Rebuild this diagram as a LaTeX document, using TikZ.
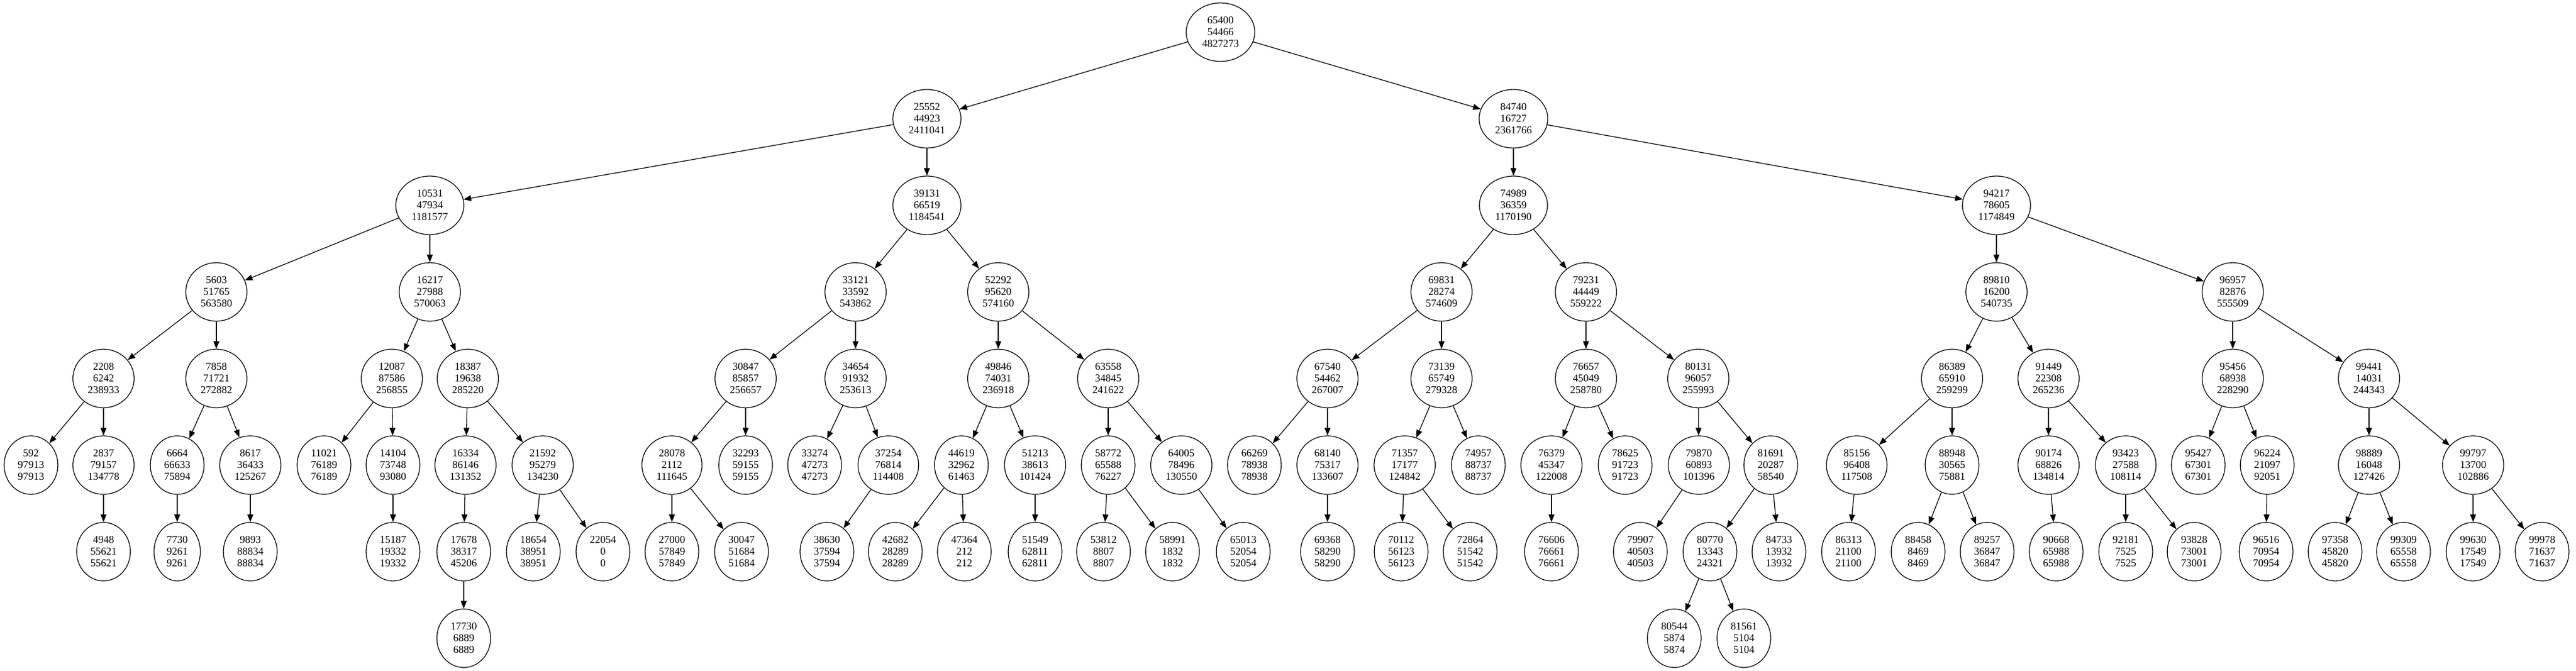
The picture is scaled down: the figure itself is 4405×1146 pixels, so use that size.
\documentclass[tikz,border=0pt]{standalone}
\usepackage{fontspec}
\setmainfont{Liberation Serif}
\usetikzlibrary{shapes.geometric,arrows.meta}
\tikzset{
  nd/.style={draw, ellipse, line width=1.3pt, inner xsep=10pt, inner ysep=3pt,
    minimum height=100pt, align=center, font=\fontsize{18pt}{20pt}\selectfont},
  edge/.style={draw, line width=1.3pt, -{Triangle[length=13pt,width=10pt]}}
}
\begin{document}
\begin{tikzpicture}[x=1pt,y=-1pt]
\useasboundingbox (0,0) rectangle (4405,1146);
% level 0
\node[nd] (n65400) at (2087,55) {65400\\54466\\4827273};
% level 1
\node[nd] (n25552) at (1585,203) {25552\\44923\\2411041};
\node[nd] (n84740) at (2588,203) {84740\\16727\\2361766};
% level 2
\node[nd] (n10531) at (735,351) {10531\\47934\\1181577};
\node[nd] (n39131) at (1585,351) {39131\\66519\\1184541};
\node[nd] (n74989) at (2588,351) {74989\\36359\\1170190};
\node[nd] (n94217) at (3414,351) {94217\\78605\\1174849};
% level 3
\node[nd] (n5603) at (370,499) {5603\\51765\\563580};
\node[nd] (n16217) at (735,499) {16217\\27988\\570063};
\node[nd] (n33121) at (1463,499) {33121\\33592\\543862};
\node[nd] (n52292) at (1707,499) {52292\\95620\\574160};
\node[nd] (n69831) at (2465,499) {69831\\28274\\574609};
\node[nd] (n79231) at (2712,499) {79231\\44449\\559222};
\node[nd] (n89810) at (3414,499) {89810\\16200\\540735};
\node[nd] (n96957) at (3818,499) {96957\\82876\\555509};
% level 4
\node[nd] (n2208) at (177,647) {2208\\6242\\238933};
\node[nd] (n7858) at (370,647) {7858\\71721\\272882};
\node[nd] (n12087) at (670,647) {12087\\87586\\256855};
\node[nd] (n18387) at (800,647) {18387\\19638\\285220};
\node[nd] (n30847) at (1275,647) {30847\\85857\\256657};
\node[nd] (n34654) at (1463,647) {34654\\91932\\253613};
\node[nd] (n49846) at (1707,647) {49846\\74031\\236918};
\node[nd] (n63558) at (1895,647) {63558\\34845\\241622};
\node[nd] (n67540) at (2270,647) {67540\\54462\\267007};
\node[nd] (n73139) at (2465,647) {73139\\65749\\279328};
\node[nd] (n76657) at (2712,647) {76657\\45049\\258780};
\node[nd] (n80131) at (2904,647) {80131\\96057\\255993};
\node[nd] (n86389) at (3338,647) {86389\\65910\\259299};
\node[nd] (n91449) at (3503,647) {91449\\22308\\265236};
\node[nd] (n95456) at (3818,647) {95456\\68938\\228290};
\node[nd] (n99441) at (4051,647) {99441\\14031\\244343};
% level 5
\node[nd] (n592) at (53,795) {592\\97913\\97913};
\node[nd] (n2837) at (177,795) {2837\\79157\\134778};
\node[nd] (n6664) at (303,795) {6664\\66633\\75894};
\node[nd] (n8617) at (428,795) {8617\\36433\\125267};
\node[nd] (n11021) at (554,795) {11021\\76189\\76189};
\node[nd] (n14104) at (672,795) {14104\\73748\\93080};
\node[nd] (n16334) at (796,795) {16334\\86146\\131352};
\node[nd] (n21592) at (928,795) {21592\\95279\\134230};
\node[nd] (n28078) at (1149,795) {28078\\2112\\111645};
\node[nd] (n32293) at (1275,795) {32293\\59155\\59155};
\node[nd] (n33274) at (1393,795) {33274\\47273\\47273};
\node[nd] (n37254) at (1519,795) {37254\\76814\\114408};
\node[nd] (n44619) at (1644,795) {44619\\32962\\61463};
\node[nd] (n51213) at (1770,795) {51213\\38613\\101424};
\node[nd] (n58772) at (1895,795) {58772\\65588\\76227};
\node[nd] (n64005) at (2020,795) {64005\\78496\\130550};
\node[nd] (n66269) at (2145,795) {66269\\78938\\78938};
\node[nd] (n68140) at (2270,795) {68140\\75317\\133607};
\node[nd] (n71357) at (2402,795) {71357\\17177\\124842};
\node[nd] (n74957) at (2528,795) {74957\\88737\\88737};
\node[nd] (n76379) at (2653,795) {76379\\45347\\122008};
\node[nd] (n78625) at (2779,795) {78625\\91723\\91723};
\node[nd] (n79870) at (2905,795) {79870\\60893\\101396};
\node[nd] (n81691) at (3028,795) {81691\\20287\\58540};
\node[nd] (n85156) at (3175,795) {85156\\96408\\117508};
\node[nd] (n88948) at (3338,795) {88948\\30565\\75881};
\node[nd] (n90174) at (3503,795) {90174\\68826\\134814};
\node[nd] (n93423) at (3635,795) {93423\\27588\\108114};
\node[nd] (n95427) at (3759,795) {95427\\67301\\67301};
\node[nd] (n96224) at (3877,795) {96224\\21097\\92051};
\node[nd] (n98889) at (4051,795) {98889\\16048\\127426};
\node[nd] (n99797) at (4229,795) {99797\\13700\\102886};
% level 6
\node[nd] (n4948) at (177,943) {4948\\55621\\55621};
\node[nd] (n7730) at (303,943) {7730\\9261\\9261};
\node[nd] (n9893) at (428,943) {9893\\88834\\88834};
\node[nd] (n15187) at (672,943) {15187\\19332\\19332};
\node[nd] (n17678) at (793,943) {17678\\38317\\45206};
\node[nd] (n18654) at (912,943) {18654\\38951\\38951};
\node[nd] (n22054) at (1031,943) {22054\\0\\0};
\node[nd] (n27000) at (1149,943) {27000\\57849\\57849};
\node[nd] (n30047) at (1268,943) {30047\\51684\\51684};
\node[nd] (n38630) at (1414,943) {38630\\37594\\37594};
\node[nd] (n42682) at (1531,943) {42682\\28289\\28289};
\node[nd] (n47364) at (1649,943) {47364\\212\\212};
\node[nd] (n51549) at (1770,943) {51549\\62811\\62811};
\node[nd] (n53812) at (1887,943) {53812\\8807\\8807};
\node[nd] (n58991) at (2005,943) {58991\\1832\\1832};
\node[nd] (n65013) at (2126,943) {65013\\52054\\52054};
\node[nd] (n69368) at (2270,943) {69368\\58290\\58290};
\node[nd] (n70112) at (2396,943) {70112\\56123\\56123};
\node[nd] (n72864) at (2514,943) {72864\\51542\\51542};
\node[nd] (n76606) at (2653,943) {76606\\76661\\76661};
\node[nd] (n79907) at (2805,943) {79907\\40503\\40503};
\node[nd] (n80770) at (2924,943) {80770\\13343\\24321};
\node[nd] (n84733) at (3042,943) {84733\\13932\\13932};
\node[nd] (n86313) at (3161,943) {86313\\21100\\21100};
\node[nd] (n88458) at (3280,943) {88458\\8469\\8469};
\node[nd] (n89257) at (3398,943) {89257\\36847\\36847};
\node[nd] (n90668) at (3516,943) {90668\\65988\\65988};
\node[nd] (n92181) at (3635,943) {92181\\7525\\7525};
\node[nd] (n93828) at (3752,943) {93828\\73001\\73001};
\node[nd] (n96516) at (3875,943) {96516\\70954\\70954};
\node[nd] (n97358) at (3993,943) {97358\\45820\\45820};
\node[nd] (n99309) at (4110,943) {99309\\65558\\65558};
\node[nd] (n99630) at (4229,943) {99630\\17549\\17549};
\node[nd] (n99978) at (4347,943) {99978\\71637\\71637};
% level 7
\node[nd] (n17730) at (793,1091) {17730\\6889\\6889};
\node[nd] (n80544) at (2863,1091) {80544\\5874\\5874};
\node[nd] (n81561) at (2982,1091) {81561\\5104\\5104};
% edges
\foreach \a/\b in {65400/25552,65400/84740,
  25552/10531,25552/39131,84740/74989,84740/94217,
  10531/5603,10531/16217,39131/33121,39131/52292,74989/69831,74989/79231,94217/89810,94217/96957,
  5603/2208,5603/7858,16217/12087,16217/18387,33121/30847,33121/34654,52292/49846,52292/63558,
  69831/67540,69831/73139,79231/76657,79231/80131,89810/86389,89810/91449,96957/95456,96957/99441,
  2208/592,2208/2837,7858/6664,7858/8617,12087/11021,12087/14104,18387/16334,18387/21592,
  30847/28078,30847/32293,34654/33274,34654/37254,49846/44619,49846/51213,63558/58772,63558/64005,
  67540/66269,67540/68140,73139/71357,73139/74957,76657/76379,76657/78625,80131/79870,80131/81691,
  86389/85156,86389/88948,91449/90174,91449/93423,95456/95427,95456/96224,99441/98889,99441/99797,
  2837/4948,6664/7730,8617/9893,14104/15187,16334/17678,21592/18654,21592/22054,
  28078/27000,28078/30047,37254/38630,44619/42682,44619/47364,51213/51549,
  58772/53812,58772/58991,64005/65013,68140/69368,71357/70112,71357/72864,
  76379/76606,79870/79907,81691/80770,81691/84733,85156/86313,88948/88458,88948/89257,
  90174/90668,93423/92181,93423/93828,96224/96516,98889/97358,98889/99309,
  99797/99630,99797/99978,17678/17730,80770/80544,80770/81561}
  \draw[edge] (n\a) -- (n\b);
\end{tikzpicture}
\end{document}
